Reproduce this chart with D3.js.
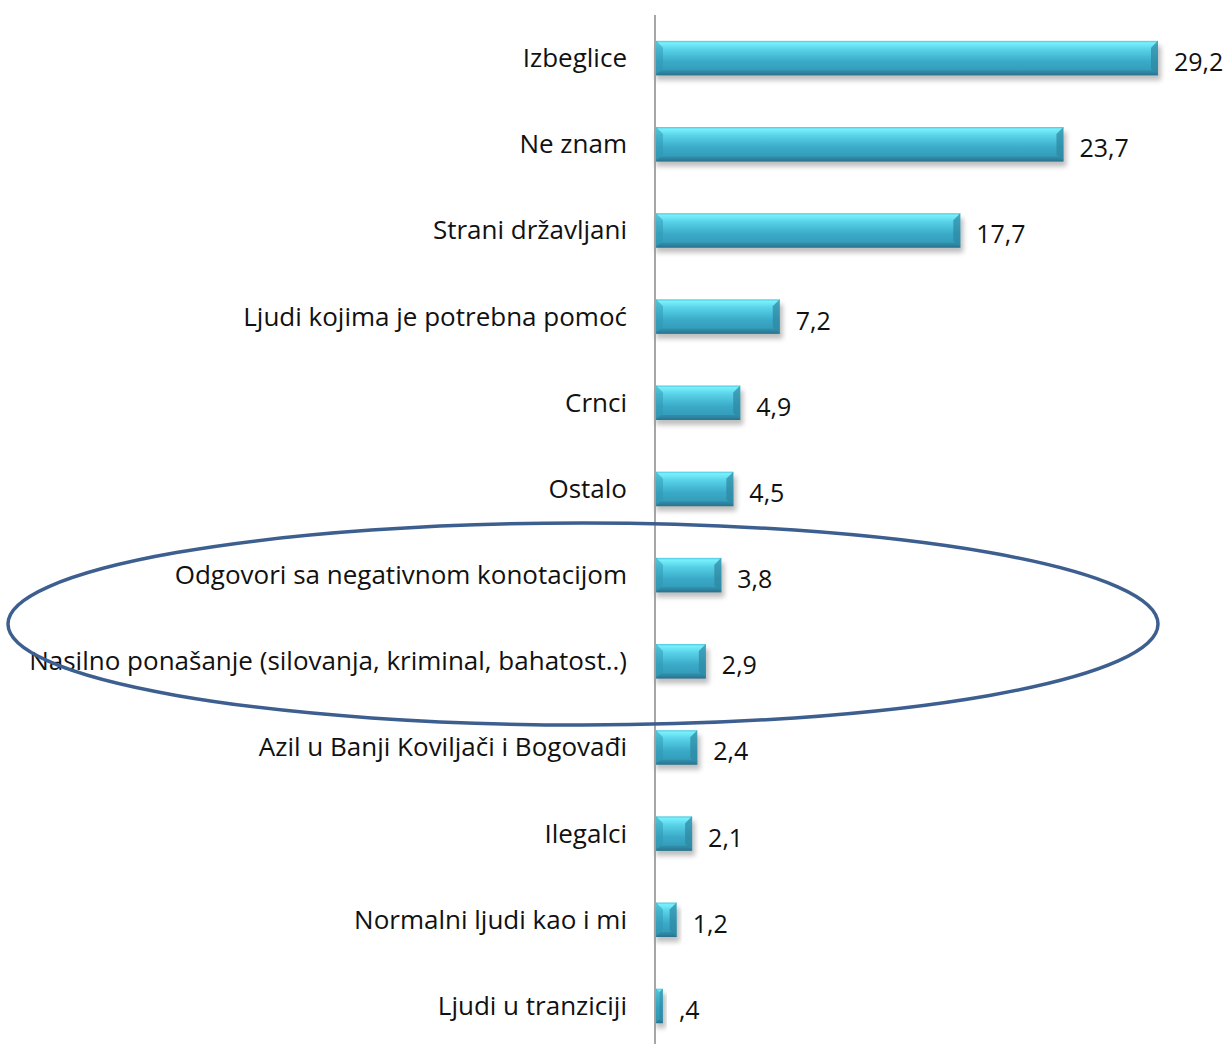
<!DOCTYPE html>
<html><head><meta charset="utf-8">
<script src="https://cdn.jsdelivr.net/npm/d3@7"></script>
<style>body{margin:0;background:#fff}text{font-family:"Open Sans",sans-serif}</style>
</head><body><svg id="c" width="1229" height="1044"></svg>
<script>
const categories = ["Izbeglice","Ne znam","Strani državljani","Ljudi kojima je potrebna pomoć","Crnci","Ostalo","Odgovori sa negativnom konotacijom","Nasilno ponašanje (silovanja, kriminal, bahatost..)","Azil u Banji Koviljači i Bogovađi","Ilegalci","Normalni ljudi kao i mi","Ljudi u tranziciji"];
const values = [29.2,23.7,17.7,7.2,4.9,4.5,3.8,2.9,2.4,2.1,1.2,0.4];
const valueLabels = ["29,2","23,7","17,7","7,2","4,9","4,5","3,8","2,9","2,4","2,1","1,2",",4"];

const svg = d3.select("#c");
const x = d3.scaleLinear().domain([0,29.2]).range([656,1158]);
const y = d3.scaleBand().domain(categories).range([15,1049]).paddingInner(0.6).paddingOuter(0.3);
const defs = svg.append("defs");
const g = defs.append("linearGradient").attr("id","bg").attr("x1",0).attr("x2",0).attr("y1",0).attr("y2",1);
[[0,"#4fc6dc"],[0.06,"#78f0fc"],[0.25,"#58d2e8"],[0.6,"#3aaac8"],[0.88,"#339cba"],[1,"#2a6f88"]].forEach(d=>g.append("stop").attr("offset",d[0]).attr("stop-color",d[1]));
const f = defs.append("filter").attr("id","sh").attr("x","-10%").attr("y","-20%").attr("width","120%").attr("height","160%");
f.append("feGaussianBlur").attr("stdDeviation",2.5);

const h = y.bandwidth();
const rows = svg.append("g").selectAll("g").data(categories).join("g");
rows.append("rect").attr("x",d=>x(0)).attr("y",d=>y(d)+5).attr("width",(d,i)=>x(values[i])-x(0)+3).attr("height",h)
  .attr("fill","#000").attr("opacity",0.25).attr("filter","url(#sh)");
rows.append("rect").attr("x",x(0)).attr("y",d=>y(d)).attr("width",(d,i)=>x(values[i])-x(0)).attr("height",h).attr("fill","url(#bg)");
// bevels
rows.append("path").attr("d",(d,i)=>{const x0=x(0),x1=x(values[i]),t=y(d),b=t+h,bw=Math.min(7,(x1-x0)/2);
  return `M${x0},${t}L${x0+bw},${t+bw}L${x0+bw},${b-bw}L${x0},${b}Z`;}).attr("fill","#2f95b2").attr("opacity",0.5);
rows.append("path").attr("d",(d,i)=>{const x0=x(0),x1=x(values[i]),t=y(d),b=t+h,bw=Math.min(7,(x1-x0)/2);
  return `M${x1},${t}L${x1-bw},${t+bw}L${x1-bw},${b-bw}L${x1},${b}Z`;}).attr("fill","#2d86a0").attr("opacity",0.7);
rows.append("path").attr("d",(d,i)=>{const x0=x(0),x1=x(values[i]),t=y(d),b=t+h,bw=Math.min(5,(x1-x0)/2);
  return `M${x0},${b}L${x0+bw},${b-bw}L${x1-bw},${b-bw}L${x1},${b}Z`;}).attr("fill","#2a7590").attr("opacity",0.4);

rows.append("text").attr("x",627).attr("y",d=>y(d)+h/2+9)
  .attr("text-anchor","end").attr("font-size",26).attr("fill","#111").text(d=>d);
rows.append("text").attr("x",(d,i)=>x(values[i])+16).attr("y",d=>y(d)+h/2+13)
  .attr("font-size",25).attr("fill","#111").text((d,i)=>valueLabels[i]);

svg.append("line").attr("x1",655).attr("x2",655).attr("y1",15).attr("y2",1044).attr("stroke","#888").attr("stroke-width",1.5);

svg.append("ellipse").attr("cx",583).attr("cy",624).attr("rx",575).attr("ry",101)
  .attr("fill","none").attr("stroke","#3d5f8f").attr("stroke-width",3.5);
</script></body></html>
